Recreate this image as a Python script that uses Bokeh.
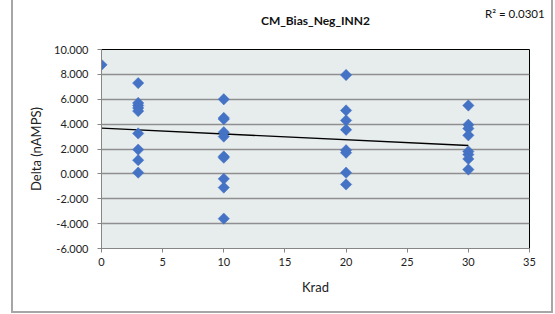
import numpy as np
from bokeh.plotting import figure
from bokeh.models import Range1d, PrintfTickFormatter, FixedTicker, LinearAxis
from bokeh.embed import file_html
from bokeh.resources import INLINE

# ---- data ----
krad_0 = [0]
delta_0 = [8.77]
krad_3 = [3] * 9
delta_3 = [7.3, 5.7, 5.5, 5.3, 5.05, 3.25, 1.95, 1.1, 0.1]
krad_10 = [10] * 10
delta_10 = [6.0, 4.5, 4.4, 3.35, 3.0, 1.4, 1.3, -0.4, -1.1, -3.6]
krad_20 = [20] * 8
delta_20 = [7.95, 5.1, 4.3, 3.55, 1.9, 1.7, 0.1, -0.85]
krad_30 = [30] * 8
delta_30 = [5.5, 3.95, 3.65, 3.1, 1.8, 1.55, 1.2, 0.35]

y_ticks = [-6, -4, -2, 0, 2, 4, 6, 8, 10]
x_ticks = [0, 5, 10, 15, 20, 25, 30, 35]
title_text = "CM_Bias_Neg_INN2"
r2_text = "R\u00b2 = 0.0301"
x_label = "Krad"
y_label = "Delta (nAMPS)"

krad = np.array(krad_0 + krad_3 + krad_10 + krad_20 + krad_30, dtype=float)
delta = np.array(delta_0 + delta_3 + delta_10 + delta_20 + delta_30, dtype=float)

slope, intercept = np.polyfit(krad, delta, 1)
trend_x = np.array([krad.min(), krad.max()])
trend_y = intercept + slope * trend_x

FONT = "Lato"
R2_POS = 33.8  # horizontal anchor of the R² note (x units), top-right corner

p = figure(width=538, height=311, output_backend="svg", toolbar_location=None,
           x_range=Range1d(0, 35), y_range=Range1d(-6, 10),
           min_border_left=88, min_border_right=22, min_border_top=49, min_border_bottom=63)
p.frame_width = 428
p.frame_height = 199
p.styles = {"margin-left": "11px",
            "border-left": "2px solid #a6a6a6",
            "border-right": "2px solid #a6a6a6",
            "border-bottom": "2px solid #a6a6a6"}

p.background_fill_color = "#e7ecec"
p.border_fill_color = "white"
p.outline_line_color = "black"
p.outline_line_width = 1

p.xgrid.visible = False
p.ygrid.ticker = FixedTicker(ticks=y_ticks)
p.ygrid.grid_line_color = "#8f8f8f"
p.ygrid.grid_line_width = 1.5

p.xaxis.ticker = FixedTicker(ticks=x_ticks)
p.yaxis.ticker = FixedTicker(ticks=y_ticks)
p.yaxis.formatter = PrintfTickFormatter(format="%.3f")

for ax in (p.xaxis, p.yaxis):
    ax.axis_line_color = "#868686"
    ax.axis_line_width = 1
    ax.major_tick_line_color = "#868686"
    ax.major_tick_in = 0
    ax.major_tick_out = 4
    ax.minor_tick_line_color = None
    ax.major_label_text_font = FONT
    ax.major_label_text_font_size = "11px"
    ax.major_label_text_color = "#222222"
    ax.axis_label_text_font = FONT
    ax.axis_label_text_font_size = "13px"
    ax.axis_label_text_font_style = "normal"
    ax.axis_label_text_color = "#222222"

p.xaxis.axis_label = x_label
p.yaxis.axis_label = y_label
p.xaxis.major_label_standoff = 5
p.yaxis.major_label_standoff = 9
p.xaxis.axis_label_standoff = 10
p.yaxis.axis_label_standoff = 7

p.line(trend_x, trend_y, line_color="black", line_width=1.3)
p.scatter(krad, delta, marker="square", size=8, angle=np.pi / 4,
          fill_color="#4472C4", line_color="#4472C4", line_width=0.5)

# chart title drawn as the label of a bare axis above the frame
title_axis = LinearAxis(ticker=FixedTicker(ticks=[]), axis_label=title_text,
                        axis_line_color=None, major_tick_line_color=None,
                        minor_tick_line_color=None, major_tick_out=0, major_tick_in=0,
                        major_label_standoff=0, axis_label_standoff=22,
                        axis_label_text_font=FONT, axis_label_text_font_size="12px",
                        axis_label_text_font_style="bold", axis_label_text_color="#111111")
p.add_layout(title_axis, "above")

# R² note drawn as a single tick label of a second bare axis further out
r2_axis = LinearAxis(ticker=FixedTicker(ticks=[R2_POS]),
                     major_label_overrides={R2_POS: r2_text},
                     axis_line_color=None, major_tick_line_color=None,
                     minor_tick_line_color=None, major_tick_out=0, major_tick_in=0,
                     major_label_standoff=-10,
                     major_label_text_font=FONT, major_label_text_font_size="11.5px",
                     major_label_text_color="#111111")
p.add_layout(r2_axis, "above")

open("out.html", "w").write(file_html(p, INLINE))
